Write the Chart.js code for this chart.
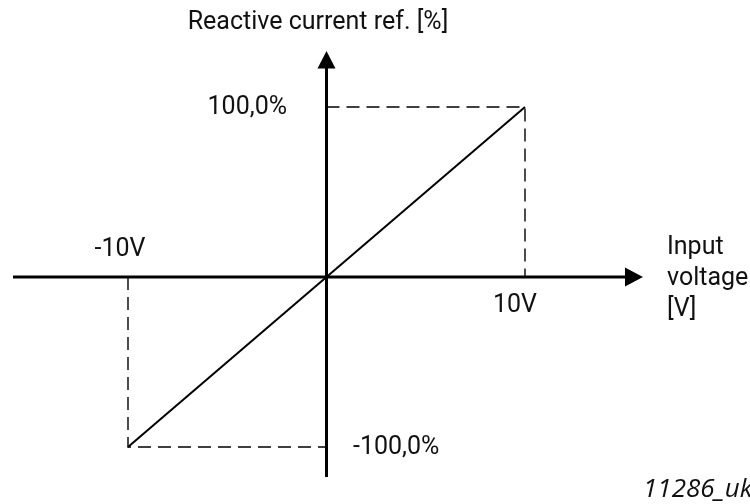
<!DOCTYPE html>
<html>
<head>
<meta charset="utf-8">
<script src="https://cdn.jsdelivr.net/npm/chart.js@4/dist/chart.umd.min.js"></script>
<style>
  html, body { margin: 0; padding: 0; background: #fff; }
  #wrap { width: 750px; height: 504px; position: relative; }
</style>
</head>
<body>
<div id="wrap"><canvas id="c" width="750" height="504"></canvas></div>
<script>
// ---- data ----
const inputVoltage = [-10, 0, 10];          // V
const reactiveRef = [-100, 0, 100];         // %
const xTickLabels = ['-10V', '10V'];
const yTickLabels = ['100,0%', '-100,0%'];
const xAxisTitle = ['Input', 'voltage', '[V]'];
const yAxisTitle = 'Reactive current ref. [%]';
const figureId = '11286_uk';

const lineData = inputVoltage.map((v, i) => ({ x: v, y: reactiveRef[i] }));
const vMin = inputVoltage[0], vMax = inputVoltage[inputVoltage.length - 1];
const rMin = reactiveRef[0], rMax = reactiveRef[reactiveRef.length - 1];
const guideNeg = [{ x: vMin, y: 0 }, { x: vMin, y: rMin }, { x: 0, y: rMin }];
const guidePos = [{ x: 0, y: rMax }, { x: vMax, y: rMax }, { x: vMax, y: 0 }];

const FONT = 'Roboto, "Liberation Sans", sans-serif';

const axesPlugin = {
  id: 'axesPlugin',
  afterDatasetsDraw(chart) {
    const { ctx } = chart;
    const xs = chart.scales.x, ys = chart.scales.y;
    const x0 = xs.getPixelForValue(0), y0 = ys.getPixelForValue(0);
    ctx.save();
    ctx.strokeStyle = '#000';
    ctx.fillStyle = '#000';
    ctx.lineWidth = 3;
    // horizontal axis
    ctx.beginPath();
    ctx.moveTo(13, y0);
    ctx.lineTo(628, y0);
    ctx.stroke();
    ctx.beginPath();
    ctx.moveTo(643, y0);
    ctx.lineTo(625, y0 - 9.5);
    ctx.lineTo(625, y0 + 9.5);
    ctx.closePath();
    ctx.fill();
    // vertical axis
    ctx.beginPath();
    ctx.moveTo(x0, 477);
    ctx.lineTo(x0, 66);
    ctx.stroke();
    ctx.beginPath();
    ctx.moveTo(x0, 51);
    ctx.lineTo(x0 - 9, 68.5);
    ctx.lineTo(x0 + 9, 68.5);
    ctx.closePath();
    ctx.fill();

    // texts
    ctx.font = '25px ' + FONT;
    ctx.fillStyle = '#111';
    ctx.textBaseline = 'middle';
    ctx.textAlign = 'center';
    ctx.fillText(yAxisTitle, 318, 23);
    ctx.textAlign = 'right';
    ctx.fillText(yTickLabels[0], 287, ys.getPixelForValue(rMax) + 1);
    ctx.textAlign = 'left';
    ctx.fillText(yTickLabels[1], 353, ys.getPixelForValue(rMin) + 1);
    ctx.textAlign = 'center';
    ctx.fillText(xTickLabels[0], xs.getPixelForValue(vMin) - 8, y0 - 27);
    ctx.fillText(xTickLabels[1], xs.getPixelForValue(vMax) - 10, y0 + 29);
    ctx.textAlign = 'left';
    xAxisTitle.forEach((t, i) => ctx.fillText(t, 667, 248 + i * 31));
    ctx.font = 'italic 26px "Open Sans", sans-serif';
    ctx.fillText(figureId, 643, 490);
    ctx.restore();
  }
};

new Chart(document.getElementById('c'), {
  type: 'scatter',
  data: {
    datasets: [
      { data: guideNeg, showLine: true, borderColor: '#000', borderWidth: 1.4, borderDash: [13, 7], pointRadius: 0, clip: false },
      { data: guidePos, showLine: true, borderColor: '#000', borderWidth: 1.4, borderDash: [13, 7], pointRadius: 0, clip: false },
      { data: lineData, showLine: true, borderColor: '#000', borderWidth: 2, pointRadius: 0, clip: false }
    ]
  },
  options: {
    responsive: false,
    animation: false,
    layout: { padding: { left: 128, right: 225, top: 107, bottom: 57 } },
    plugins: { legend: { display: false }, tooltip: { enabled: false } },
    scales: {
      x: { type: 'linear', min: vMin, max: vMax, display: false },
      y: { type: 'linear', min: rMin, max: rMax, display: false }
    }
  },
  plugins: [axesPlugin]
});
</script>
</body>
</html>
